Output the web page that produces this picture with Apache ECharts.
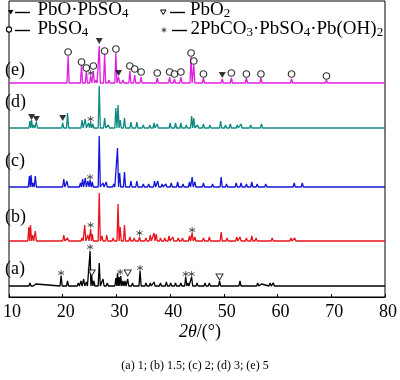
<!DOCTYPE html>
<html><head><meta charset="utf-8">
<script src="https://cdn.jsdelivr.net/npm/echarts@6/dist/echarts.min.js"></script>
<style>html,body{margin:0;padding:0;background:#fff}#c{width:400px;height:380px}</style>
</head><body><div id="c"></div>
<script>
// ---- data ----
const xMin = 10, xMax = 80, xStep = 10;
const sampleLabels = ['(a)', '(b)', '(c)', '(d)', '(e)'];
const caption = '(a) 1; (b) 1.5; (c) 2; (d) 3; (e) 5';
const axisTitle = ['2θ', '/(°)'];
// vertical stacking offsets of the patterns (a)..(e)
const offsets = [11, 56, 110, 169, 214];
// peaks: [2θ, intensity above baseline]
const peaksA = [[13.5,2],[13.9,3],[14.3,2],[15.0,2],[19.7,10],[20.9,5],[22.9,3],[23.4,5],[23.9,7],[24.4,4],[25.1,35],[25.4,10],[25.8,5],[26.8,23],[27.5,7],[28.3,3],[29.9,8],[30.2,13],[30.5,9],[30.8,10],[31.2,5],[31.6,5],[32.1,7],[33.0,3],[34.4,15],[35.5,3],[36.3,3],[37.0,4],[38.2,3],[39.3,4],[40.1,3],[41.0,3],[42.0,3],[42.9,9],[43.3,3],[44.0,9],[45.0,3],[46.5,3],[47.3,3],[49.2,5],[50.5,2],[51.3,2],[53.0,5],[54.0,2],[55.0,2],[56.3,3],[57.0,2],[58.6,3],[59.2,3],[61.0,2],[62.0,2],[64.0,2],[66.5,1],[70.0,1],[72.0,1],[75.0,1]];
const peaksB = [[13.7,14],[14.0,16],[14.4,6],[14.9,10],[16.0,2],[17.5,1],[20.2,6],[20.9,3],[22.0,2],[23.6,3],[24.1,16],[24.7,6],[25.2,12],[25.5,7],[26.8,48],[27.3,5],[28.2,6],[29.4,3],[30.3,37],[30.7,14],[31.5,16],[32.5,4],[33.3,3],[34.3,4],[35.5,3],[36.3,6],[37.0,8],[37.4,7],[38.2,3],[39.0,3],[39.8,5],[40.5,4],[41.5,3],[42.3,3],[43.6,5],[44.1,8],[44.6,4],[46.2,3],[47.3,4],[48.2,2],[49.5,9],[50.6,3],[52.4,4],[53.0,4],[54.2,3],[55.2,5],[56.0,3],[57.5,2],[59.0,3],[61.0,2],[62.5,3],[63.2,3],[64.5,2],[66.0,2],[68.0,1],[71.0,2],[74.0,1],[77.0,2]];
const peaksC = [[13.8,11],[14.1,12],[14.5,4],[14.9,11],[17.5,1],[20.2,8],[20.8,6],[22.0,2],[23.3,4],[23.7,8],[24.2,9],[24.7,6],[25.1,7],[25.5,5],[26.8,51],[27.5,4],[28.1,5],[29.5,3],[30.2,39],[30.6,14],[31.5,15],[32.7,6],[33.8,6],[35.0,3],[36.0,3],[37.1,6],[37.7,6],[38.5,3],[39.2,3],[40.2,4],[41.4,5],[42.4,3],[43.6,5],[44.1,10],[44.6,5],[46.2,4],[47.9,3],[49.5,10],[50.5,3],[52.3,4],[53.2,4],[54.2,3],[55.2,5],[56.2,3],[57.8,3],[59.4,2],[61.0,2],[63.1,4],[64.6,4],[66.0,2],[68.5,2],[71.0,2],[74.0,2],[77.0,2]];
const peaksD = [[13.9,7],[14.2,8],[14.6,3],[15.1,6],[17.0,1],[20.0,5],[20.9,15],[22.3,2],[23.6,8],[24.2,9],[24.8,5],[25.2,6],[25.6,4],[26.8,42],[27.8,10],[28.5,3],[29.9,20],[30.3,23],[30.7,8],[31.5,10],[32.7,6],[33.8,6],[35.0,3],[36.2,3],[37.0,5],[37.6,4],[38.5,2],[40.0,5],[41.0,5],[42.0,5],[43.0,3],[44.0,12],[44.4,10],[45.1,3],[46.2,4],[47.4,3],[49.4,7],[50.3,3],[51.2,4],[52.5,3],[53.2,4],[55.0,3],[57.0,4],[58.5,2],[60.0,2],[62.4,2],[64.0,2],[66.0,1],[69.0,2],[72.0,1],[75.0,1]];
const peaksE = [[14.0,1],[17.5,1],[21.0,27],[22.0,2],[23.5,18],[24.4,12],[25.2,7],[25.7,12],[26.2,3],[26.8,37],[27.8,29],[28.6,3],[29.9,30],[30.4,6],[31.2,3],[32.5,12],[33.4,8],[34.6,6],[35.6,2],[36.5,2],[37.6,5],[38.6,2],[39.9,6],[40.8,4],[42.0,6],[43.1,2],[43.9,26],[44.4,18],[45.3,2],[46.2,5],[47.5,2],[48.5,2],[49.7,4],[51.4,5],[52.5,2],[54.2,5],[55.5,2],[56.9,5],[58.5,2],[60.5,2],[62.6,4],[64.5,2],[66.5,2],[69.1,3],[71.0,1],[74.0,2],[77.0,1]];
// phase markers: [pattern index (0=a..4=e), 2θ, level above baseline]
const markPbOPbSO4 = [[4,26.8,42],[4,30.4,10],[4,49.7,8],[3,14.2,11],[3,15.1,9],[3,20.0,10]];
const markPbO2 = [[0,25.4,13],[0,32.1,13],[0,49.2,9]];
const markPbSO4 = [[4,21.0,31],[4,23.5,21],[4,24.4,15],[4,25.7,17],[4,27.8,32],[4,29.9,34],[4,32.5,17],[4,33.4,14],[4,34.6,11],[4,37.6,10],[4,39.9,11],[4,40.8,9],[4,42.0,11],[4,43.9,30],[4,44.4,22],[4,46.2,9],[4,51.4,10],[4,54.2,9],[4,56.9,9],[4,62.6,9],[4,69.1,7]];
const markBasic = [[0,19.7,13],[0,25.1,39],[0,30.7,14],[0,34.4,18],[0,42.9,12],[0,44.0,12],[1,25.2,16],[1,34.3,8],[1,44.1,11],[2,25.1,10],[3,25.2,9],[4,25.2,10]];

// ---- build ----
const allPeaks = [peaksA, peaksB, peaksC, peaksD, peaksE];
const colors = ['#000000', '#e8141e', '#1414d6', '#0f8a83', '#e21ee2'];
const halfW = 0.2;
function spikes(peaks, off) {
  const pts = [[xMin, off]];
  peaks.forEach(([p, h], k) => {
    const prev = k > 0 ? peaks[k - 1][0] : -Infinity;
    const next = k < peaks.length - 1 ? peaks[k + 1][0] : Infinity;
    pts.push([Math.max(p - halfW, (prev + p) / 2), off], [p, off + h], [Math.min(p + halfW, (p + next) / 2), off]);
  });
  pts.push([xMax, off]);
  return pts;
}
function marks(list) { return list.map(([i, x, l]) => [x, offsets[i] + l]); }

const serif = 'Liberation Serif';
const series = allPeaks.map((pk, i) => ({
  type: 'line', data: spikes(pk, offsets[i]), symbol: 'none', silent: true,
  lineStyle: { color: colors[i], width: 1.3 }, z: 2
}));
const downTri = 'path://M0,0L10,0L5,8Z';
const aster = 'path://M5,0L5,10M0.67,2.5L9.33,7.5M0.67,7.5L9.33,2.5';
series.push(
  { type: 'scatter', data: marks(markPbOPbSO4), symbol: downTri, symbolSize: [7, 6], itemStyle: { color: '#000' }, z: 5, silent: true },
  { type: 'scatter', data: marks(markPbO2), symbol: downTri, symbolSize: [7, 6], itemStyle: { color: '#fff', borderColor: '#000', borderWidth: 1 }, z: 5, silent: true },
  { type: 'scatter', data: marks(markPbSO4), symbol: 'circle', symbolSize: 6.5, itemStyle: { color: '#fff', borderColor: '#000', borderWidth: 1.2 }, z: 5, silent: true },
  { type: 'scatter', data: marks(markBasic), symbol: aster, symbolSize: 6, itemStyle: { color: 'transparent', borderColor: '#333', borderWidth: 1 }, z: 5, silent: true }
);

const richMain = { fontFamily: serif, fontSize: 19, lineHeight: 20, fill: '#000', verticalAlign: 'middle' };
const richSub = { fontFamily: serif, fontSize: 13, lineHeight: 10, verticalAlign: 'bottom' };
function legendText(x, y, txt) {
  return { type: 'text', x: x, y: y, style: { text: txt, fill: '#000', rich: { m: richMain, s: richSub }, verticalAlign: 'top' } };
}
function seg(x1, y1, x2, y2, c, w) {
  return { type: 'line', shape: { x1: x1, y1: y1, x2: x2, y2: y2 }, style: { stroke: c, lineWidth: w } };
}
const graphic = [
  // legend symbols and dashes
  { type: 'polygon', shape: { points: [[8, 10], [13.5, 10], [10.75, 14.5]] }, style: { fill: '#000' } },
  { type: 'polygon', shape: { points: [[160.5, 10], [166, 10], [163.25, 14.5]] }, style: { fill: '#fff', stroke: '#000', lineWidth: 1 } },
  { type: 'circle', shape: { cx: 9, cy: 29.5, r: 2.6 }, style: { fill: '#fff', stroke: '#000', lineWidth: 1.1 } },
  seg(164, 27.5, 164, 32.5, '#444', 1),
  seg(161.8, 28.75, 166.2, 31.25, '#444', 1),
  seg(161.8, 31.25, 166.2, 28.75, '#444', 1),
  seg(15, 12.5, 30, 12.5, '#000', 1.4),
  seg(170, 12.5, 185, 12.5, '#000', 1.4),
  seg(15, 30.5, 30, 30.5, '#000', 1.4),
  seg(172, 30.5, 187, 30.5, '#000', 1.4),
  legendText(37.5, 0.3, '{m|PbO·PbSO}{s|4}'),
  legendText(190, 0.3, '{m|PbO}{s|2}'),
  legendText(37.5, 18.6, '{m|PbSO}{s|4}'),
  legendText(190.5, 18.6, '{m|2PbCO}{s|3}{m|·PbSO}{s|4}{m|·Pb(OH)}{s|2}'),
  // axis title
  { type: 'text', x: 200, y: 332, style: { text: '{i|' + axisTitle[0] + '}{n|' + axisTitle[1] + '}', align: 'center', verticalAlign: 'middle',
      rich: { i: { fontFamily: serif, fontSize: 18, fontStyle: 'italic', fill: '#000' }, n: { fontFamily: serif, fontSize: 18, fill: '#000' } } } },
  // caption
  { type: 'text', x: 195, y: 366, style: { text: caption, fontFamily: serif, fontSize: 12, fill: '#000', align: 'center', verticalAlign: 'middle' } }
];
const labelY = [269.5, 217.5, 161, 102, 70.5];
sampleLabels.forEach((t, i) => {
  graphic.push({ type: 'text', x: 5, y: labelY[i], style: { text: t, fontFamily: serif, fontSize: 18, fill: '#000', verticalAlign: 'middle' } });
});

const chart = echarts.init(document.getElementById('c'), null, { renderer: 'canvas' });
chart.setOption({
  animation: false,
  backgroundColor: '#fff',
  grid: { left: 3, right: 10, top: 1, bottom: 83, show: true, borderColor: '#000', borderWidth: 1, containLabel: false },
  xAxis: {
    type: 'value', min: xMin, max: xMax, interval: xStep,
    axisLine: { show: true, lineStyle: { color: '#000', width: 1 } },
    axisTick: { show: true, inside: true, length: 3, lineStyle: { color: '#000' } },
    splitLine: { show: false },
    axisLabel: { color: '#000', fontFamily: serif, fontSize: 18, margin: 6, padding: [0, 0, 0, 6], showMinLabel: true, showMaxLabel: true }
  },
  yAxis: { type: 'value', min: 0, max: 296, show: false, splitLine: { show: false } },
  series: series,
  graphic: graphic
});
</script></body></html>
